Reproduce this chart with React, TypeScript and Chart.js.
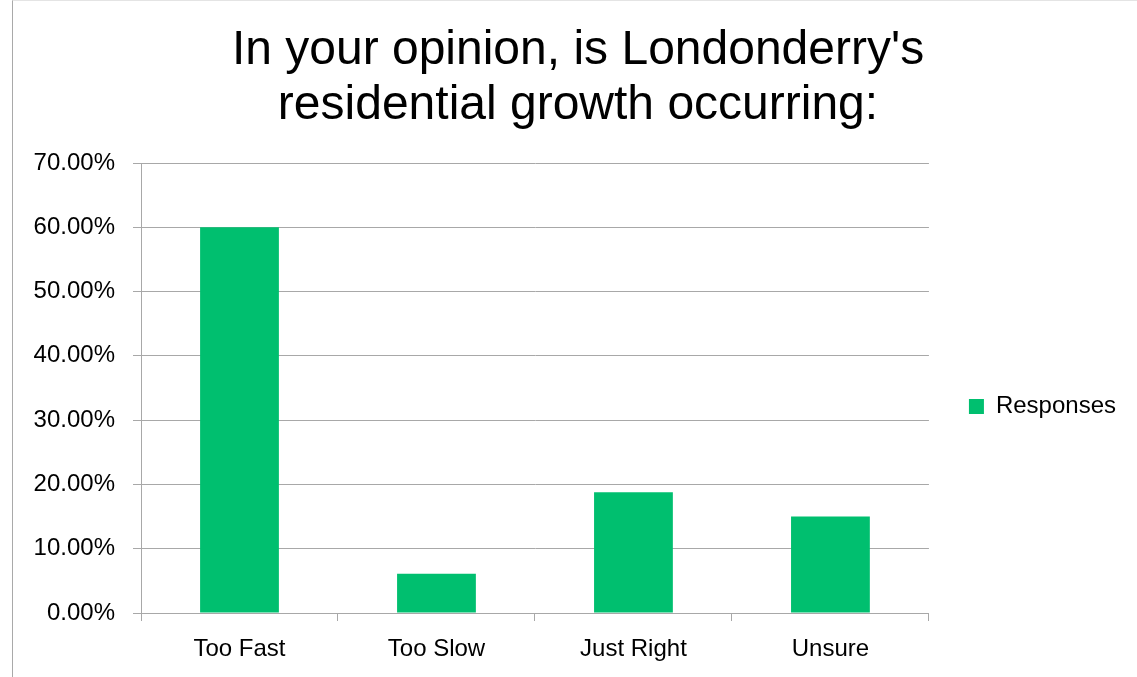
import React, { useEffect, useRef } from "react";
import { Chart, registerables } from "chart.js";

Chart.register(...registerables);

const titleLines = ["In your opinion, is Londonderry's", "residential growth occurring:"];
const categories = ["Too Fast", "Too Slow", "Just Right", "Unsure"];
const seriesName = "Responses";
const responses = [60.0, 6.1, 18.8, 15.0];
const yTicks = [0, 10, 20, 30, 40, 50, 60, 70];

const FONT = "'Liberation Sans', Arial, sans-serif";
const BAR = "#00BF6F";
const GRID = "#a8a8a8";

const legendShift = {
  id: "legendShift",
  afterLayout(chart: any) {
    const lg = chart.legend;
    if (!lg) return;
    const dy = 68;
    lg.top += dy;
    lg.bottom += dy;
  },
};

export default function App() {
  const ref = useRef<HTMLCanvasElement | null>(null);

  useEffect(() => {
    if (!ref.current) return;
    const chart = new Chart(ref.current, {
      type: "bar",
      data: {
        labels: categories,
        datasets: [
          {
            label: seriesName,
            data: responses,
            backgroundColor: BAR,
            borderWidth: 0,
            barPercentage: 0.4,
            categoryPercentage: 1,
          },
        ],
      },
      plugins: [legendShift],
      options: {
        animation: false,
        responsive: false,
        maintainAspectRatio: false,
        layout: { padding: { left: 30, right: 11, top: 0, bottom: 0 } },
        plugins: {
          tooltip: { enabled: false },
          title: {
            display: true,
            text: titleLines,
            color: "#000",
            font: { family: FONT, size: 48, weight: "normal", lineHeight: 1.146 },
            padding: { top: 23, bottom: 30 },
          },
          legend: {
            display: true,
            position: "right",
            labels: {
              color: "#000",
              font: { family: FONT, size: 24 },
              boxWidth: 15,
              boxHeight: 15,
              padding: 40,
            },
          },
        },
        scales: {
          x: {
            afterFit: (s: any) => {
              s.height = 64;
            },
            grid: {
              display: true,
              drawOnChartArea: false,
              drawTicks: true,
              tickLength: 8,
              color: GRID,
              offset: true,
            },
            border: { display: true, color: GRID, width: 1 },
            ticks: {
              color: "#000",
              font: { family: FONT, size: 24 },
              padding: 14,
              maxRotation: 0,
            },
          },
          y: {
            min: 0,
            max: 70,
            afterFit: (s: any) => {
              s.width = 111;
            },
            afterBuildTicks: (s: any) => {
              s.ticks = yTicks.map((v) => ({ value: v }));
            },
            grid: {
              color: GRID,
              tickLength: 8,
              drawTicks: true,
            },
            border: { display: true, color: GRID, width: 1 },
            ticks: {
              color: "#000",
              font: { family: FONT, size: 24 },
              padding: 18,
              callback: (v: any) => Number(v).toFixed(2) + "%",
            },
          },
        },
      },
    });
    return () => chart.destroy();
  }, []);

  return (
    <div style={{ position: "fixed", left: 0, top: 0, width: 1137, height: 677, background: "#fff", overflow: "hidden" }}>
      <div
        style={{
          position: "absolute",
          left: 12,
          top: 0,
          width: 1140,
          height: 690,
          borderLeft: "1px solid #a9a9a9",
          borderTop: "1px solid #e4e4e4",
        }}
      />
      <canvas ref={ref} width={1137} height={677} style={{ position: "absolute", left: 0, top: 0 }} />
    </div>
  );
}
